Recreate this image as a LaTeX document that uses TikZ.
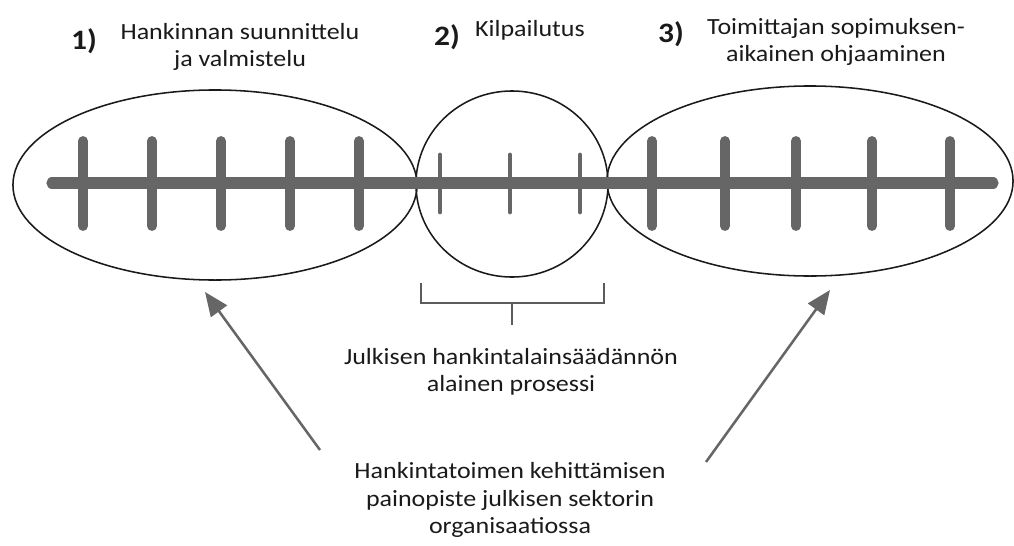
\documentclass[tikz,border=0pt]{standalone}
\usepackage{fontspec}
\setmainfont{Carlito}[FakeStretch=1.12]
\usepackage{tikz}
\usetikzlibrary{arrows.meta,shapes.geometric}

\definecolor{bar}{HTML}{666666}
\definecolor{ink}{HTML}{1A1A1A}

\begin{document}
\begin{tikzpicture}[x=0.025cm,y=-0.025cm,
  lbl/.style={align=center,text=ink,font=\fontsize{16.5}{19.5}\selectfont,inner sep=0pt},
  num/.style={text=ink,font=\fontsize{20}{21}\selectfont\bfseries,inner sep=0pt},
  phase/.style={draw=ink,line width=1.1pt,ellipse,inner sep=0pt},
  axis/.style={bar,line width=8pt,line cap=round},
  bigtick/.style={bar,line width=7pt,line cap=round},
  smalltick/.style={bar,line width=3.5pt,line cap=round},
  brk/.style={draw=bar!90!black,line width=1.2pt},
  arr/.style={-{Triangle[length=17pt,width=14pt]},bar,line width=1.8pt}
]
\useasboundingbox (0,0) rectangle (1014,546);

\node[phase,minimum width=10.1cm,minimum height=4.75cm] (ph1) at (215,185) {};
\node[phase,minimum width=4.8cm,minimum height=4.65cm] (ph2) at (512,184) {};
\node[phase,minimum width=10.15cm,minimum height=4.75cm] (ph3) at (810,181) {};

\draw[axis] (52,183) -- (993,183);
\foreach \x in {83,152,221,290,359,652,725,796,872,950}
  \draw[bigtick] (\x,141) -- (\x,226);
\foreach \x in {440,510,580}
  \draw[smalltick] (\x,155) -- (\x,212);

\node[num] (n1) at (84,41) {1)};
\node[lbl] (t1) at (240,47) {Hankinnan suunnittelu\\ja valmistelu};
\node[num] (n2) at (447,37) {2)};
\node[lbl] (t2) at (530,30) {Kilpailutus};
\node[num] (n3) at (671,34) {3)};
\node[lbl] (t3) at (836,42) {Toimittajan sopimuksen-\\aikainen ohjaaminen};

\coordinate (bl) at (421,283);
\coordinate (br) at (604,283);
\coordinate (bm) at (512,303);
\coordinate (bs) at (512,325);
\draw[brk] (bl) |- (br |- bm) -- (br);
\draw[brk] (bm) -- (bs);

\node[lbl] (jul) at (511,372) {Julkisen hankintalainsäädännön\\alainen prosessi};
\node[lbl] (dev) at (510,500) {Hankintatoimen kehittämisen\\painopiste julkisen sektorin\\organisaatiossa};

\coordinate (s1) at (320,450);
\coordinate (e1) at (205,292);
\coordinate (s2) at (706,462);
\coordinate (e2) at (830,290);
\draw[arr] (s1) -- (e1);
\draw[arr] (s2) -- (e2);
\end{tikzpicture}
\end{document}
